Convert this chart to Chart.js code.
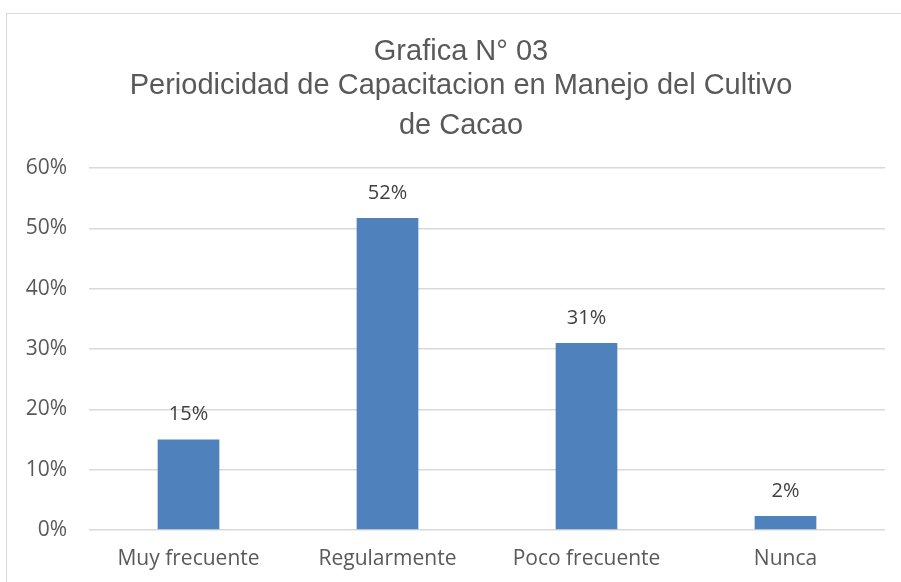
<!DOCTYPE html>
<html>
<head>
<meta charset="utf-8">
<script src="https://cdn.jsdelivr.net/npm/chart.js@4/dist/chart.umd.min.js"></script>
<style>
  body { margin: 0; background: #fff; }
  #frame { position: absolute; left: 6px; top: 13px; width: 960px; height: 640px; border: 1px solid #d9d9d9; }
  #wrap { position: absolute; left: 0; top: 0; width: 901px; height: 582px; }
</style>
</head>
<body>
<div id="frame"></div>
<div id="wrap"><canvas id="chart"></canvas></div>
<script>
const categories = ['Muy frecuente', 'Regularmente', 'Poco frecuente', 'Nunca'];
const values = [0.15, 0.517, 0.31, 0.023];
const titleLines = ['Grafica N° 03', 'Periodicidad de Capacitacion en Manejo del Cultivo', 'de Cacao'];

// title drawn by hand: the original is centred on the frame, not the chart box
const titleBaselines = [60, 94, 134];
const chartTitle = {
    id: 'chartTitle',
    afterDraw(chart) {
        const ctx = chart.ctx;
        ctx.save();
        ctx.font = '29px "Liberation Sans"';
        ctx.fillStyle = '#595959';
        ctx.textAlign = 'center';
        ctx.textBaseline = 'alphabetic';
        titleLines.forEach((line, i) => ctx.fillText(line, 461, titleBaselines[i]));
        ctx.restore();
    }
};

// value labels above the bars
const barLabels = {
    id: 'barLabels',
    afterDatasetsDraw(chart) {
        const ctx = chart.ctx;
        const meta = chart.getDatasetMeta(0);
        ctx.save();
        ctx.font = '20px "Open Sans"';
        ctx.fillStyle = '#404040';
        ctx.textAlign = 'center';
        ctx.textBaseline = 'middle';
        meta.data.forEach((bar, i) => {
            ctx.fillText(Math.round(values[i] * 100) + '%', bar.x, bar.y - 25);
        });
        ctx.restore();
    }
};

new Chart(document.getElementById('chart'), {
    type: 'bar',
    data: {
        labels: categories,
        datasets: [{
            data: values,
            backgroundColor: '#4f81bd',
            barPercentage: 0.31,
            categoryPercentage: 1
        }]
    },
    options: {
        responsive: true,
        maintainAspectRatio: false,
        animation: false,
        layout: { padding: { left: 0, right: 16, top: 168, bottom: 12 } },
        plugins: {
            legend: { display: false },
            tooltip: { enabled: false },
            title: { display: false }
        },
        scales: {
            x: {
                afterFit: s => { s.height = 40; },
                grid: { display: false, drawTicks: false },
                border: { display: false },
                ticks: { color: '#595959', font: { family: 'Open Sans', size: 21 }, padding: 16 }
            },
            y: {
                min: 0,
                max: 0.6,
                afterFit: s => { s.width = 89; },
                grid: { color: '#d9d9d9', lineWidth: 1.5, drawTicks: false },
                border: { display: false },
                ticks: {
                    stepSize: 0.1,
                    color: '#595959',
                    font: { family: 'Open Sans', size: 21 },
                    padding: 22,
                    callback: v => Math.round(v * 100) + '%'
                }
            }
        }
    },
    plugins: [barLabels, chartTitle]
});
</script>
</body>
</html>
